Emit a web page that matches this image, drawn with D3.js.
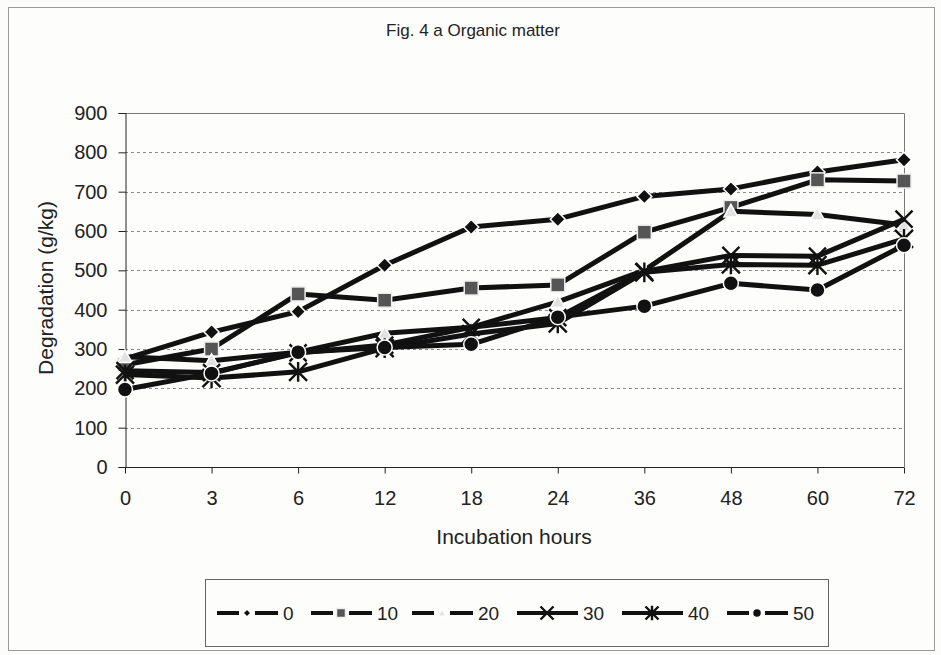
<!DOCTYPE html>
<html>
<head>
<meta charset="utf-8">
<script src="https://cdn.jsdelivr.net/npm/d3@7"></script>
<style>
  html, body { margin: 0; padding: 0; background: #fcfcfa; }
  svg { display: block; }
  text { font-family: "Liberation Sans", Arial, sans-serif; fill: #222; }
</style>
</head>
<body>
<svg id="chart" width="941" height="655"></svg>
<script>
// Incubation times (h) on the category axis
const hours = ["0", "3", "6", "12", "18", "24", "36", "48", "60", "72"];
const yTicks = [0, 100, 200, 300, 400, 500, 600, 700, 800, 900];

// Organic matter degradation (g/kg) per treatment level
const s0  = [275, 343, 395, 513, 610, 630, 688, 707, 750, 781];
const s10 = [260, 300, 440, 424, 455, 463, 597, 660, 730, 727];
const s20 = [280, 270, 292, 340, 355, 420, 500, 650, 642, 615];
const s30 = [245, 240, 290, 310, 355, 380, 497, 538, 536, 630];
const s40 = [235, 226, 242, 302, 338, 365, 495, 515, 513, 580];
const s50 = [197, 238, 292, 304, 312, 381, 409, 467, 450, 564];

const seriesNames = ["0", "10", "20", "30", "40", "50"];
const seriesValues = [s0, s10, s20, s30, s40, s50];
const markerKinds = ["diamond", "square", "triangle", "x", "asterisk", "circle"];

const svg = d3.select("#chart");

// outer chart frame
svg.append("rect").attr("x", 8.5).attr("y", 7.5).attr("width", 926).attr("height", 643)
  .attr("fill", "#fdfdfc").attr("stroke", "#9a9a9a").attr("stroke-width", 1);

const plot = { left: 125, right: 904, top: 113, bottom: 467 };

const x = d3.scalePoint().domain(hours).range([plot.left, plot.right]).padding(0);
const y = d3.scaleLinear().domain([0, 900]).range([plot.bottom, plot.top]);

// title
svg.append("text").attr("x", 473).attr("y", 36).attr("text-anchor", "middle")
  .style("font-size", "17px").text("Fig. 4 a Organic matter");

// gridlines
svg.append("g").selectAll("line").data(yTicks.filter(d => d > 0 && d < 900)).join("line")
  .attr("x1", plot.left).attr("x2", plot.right)
  .attr("y1", d => Math.round(y(d)) + 0.5).attr("y2", d => Math.round(y(d)) + 0.5)
  .attr("stroke", "#8a8a8a").attr("stroke-width", 1).attr("stroke-dasharray", "3,3");

// plot frame (top and right)
svg.append("path")
  .attr("d", `M${plot.left},${plot.top + 0.5}H${plot.right + 0.5}V${plot.bottom}`)
  .attr("fill", "none").attr("stroke", "#777").attr("stroke-width", 1);

// axes
const yAxis = d3.axisLeft(y).tickValues(yTicks).tickSize(7).tickPadding(11);
const gy = svg.append("g").attr("transform", `translate(${plot.left + 0.5},0)`).call(yAxis);
const xAxis = d3.axisBottom(x).tickSize(6).tickPadding(17);
const gx = svg.append("g").attr("transform", `translate(0,${plot.bottom + 0.5})`).call(xAxis);
[gy, gx].forEach(g => {
  g.select(".domain").attr("stroke", "#222");
  g.selectAll(".tick line").attr("stroke", "#222");
  g.selectAll(".tick text").style("font-size", "20px").style("font-family", "'Liberation Sans', Arial, sans-serif").attr("fill", "#222");
});
gx.select(".domain").attr("d", `M${plot.left},0H${plot.right}`);

// axis titles
svg.append("text").attr("transform", "translate(53,288) rotate(-90)").attr("text-anchor", "middle")
  .style("font-size", "21px").text("Degradation (g/kg)");
svg.append("text").attr("x", 514).attr("y", 544).attr("text-anchor", "middle")
  .style("font-size", "21px").text("Incubation hours");

// marker painter
function drawMarker(g, kind, cx, cy, s) {
  if (kind === "diamond") {
    g.append("path").attr("d", `M${cx},${cy - s}L${cx + s},${cy}L${cx},${cy + s}L${cx - s},${cy}Z`)
      .attr("fill", "#111").attr("stroke", "#fff").attr("stroke-width", 1.5);
  } else if (kind === "square") {
    g.append("rect").attr("x", cx - s).attr("y", cy - s).attr("width", 2 * s).attr("height", 2 * s)
      .attr("fill", "#555").attr("stroke", "#eee").attr("stroke-width", 1.5);
  } else if (kind === "triangle") {
    g.append("path").attr("d", `M${cx},${cy - s}L${cx + s},${cy + s * 0.8}L${cx - s},${cy + s * 0.8}Z`)
      .attr("fill", "#e2e2e2").attr("stroke", "#fff").attr("stroke-width", 1.5);
  } else if (kind === "x") {
    g.append("path").attr("d", `M${cx - s},${cy - s}L${cx + s},${cy + s}M${cx + s},${cy - s}L${cx - s},${cy + s}`)
      .attr("stroke", "#111").attr("stroke-width", 2.4);
  } else if (kind === "asterisk") {
    g.append("path").attr("d", `M${cx - s},${cy - s}L${cx + s},${cy + s}M${cx + s},${cy - s}L${cx - s},${cy + s}M${cx},${cy - s * 1.1}V${cy + s * 1.1}`)
      .attr("stroke", "#111").attr("stroke-width", 2.4);
  } else if (kind === "circle") {
    g.append("circle").attr("cx", cx).attr("cy", cy).attr("r", s)
      .attr("fill", "#111").attr("stroke", "#fff").attr("stroke-width", 1.5);
  }
}
const markerSize = { diamond: 7.5, square: 7, triangle: 7, x: 8.5, asterisk: 9, circle: 7.5 };

const line = d3.line().x((d, i) => x(hours[i])).y(d => y(d));

seriesValues.forEach((vals, k) => {
  const g = svg.append("g");
  g.append("path").datum(vals).attr("d", line)
    .attr("fill", "none").attr("stroke", "#111").attr("stroke-width", 5)
    .attr("stroke-linejoin", "round");
  vals.forEach((v, i) => drawMarker(g, markerKinds[k], x(hours[i]), y(v), markerSize[markerKinds[k]]));
});

// legend
const legend = svg.append("g");
legend.append("rect").attr("x", 205.5).attr("y", 579.5).attr("width", 623).attr("height", 67)
  .attr("fill", "#fdfdfc").attr("stroke", "#666").attr("stroke-width", 1);
const legendX = [217, 311, 412, 517, 622, 727];
const legendSmall = { diamond: 4, square: 4.5, triangle: 4, x: 6.5, asterisk: 6.5, circle: 4.5 };
seriesNames.forEach((name, k) => {
  const lx = legendX[k], ly = 613;
  legend.append("line").attr("x1", lx).attr("x2", lx + 61).attr("y1", ly).attr("y2", ly)
    .attr("stroke", "#111").attr("stroke-width", 4);
  const kind = markerKinds[k];
  // clear a small gap around filled markers, as drawn in the key
  if (kind !== "x" && kind !== "asterisk") {
    legend.append("rect").attr("x", lx + 30 - 8).attr("y", ly - 4).attr("width", 16).attr("height", 8).attr("fill", "#fdfdfc");
  }
  drawMarker(legend, kind, lx + 30, ly, legendSmall[kind]);
  legend.append("text").attr("x", lx + 66).attr("y", ly + 7).style("font-size", "19px").text(name);
});
</script>
</body>
</html>
